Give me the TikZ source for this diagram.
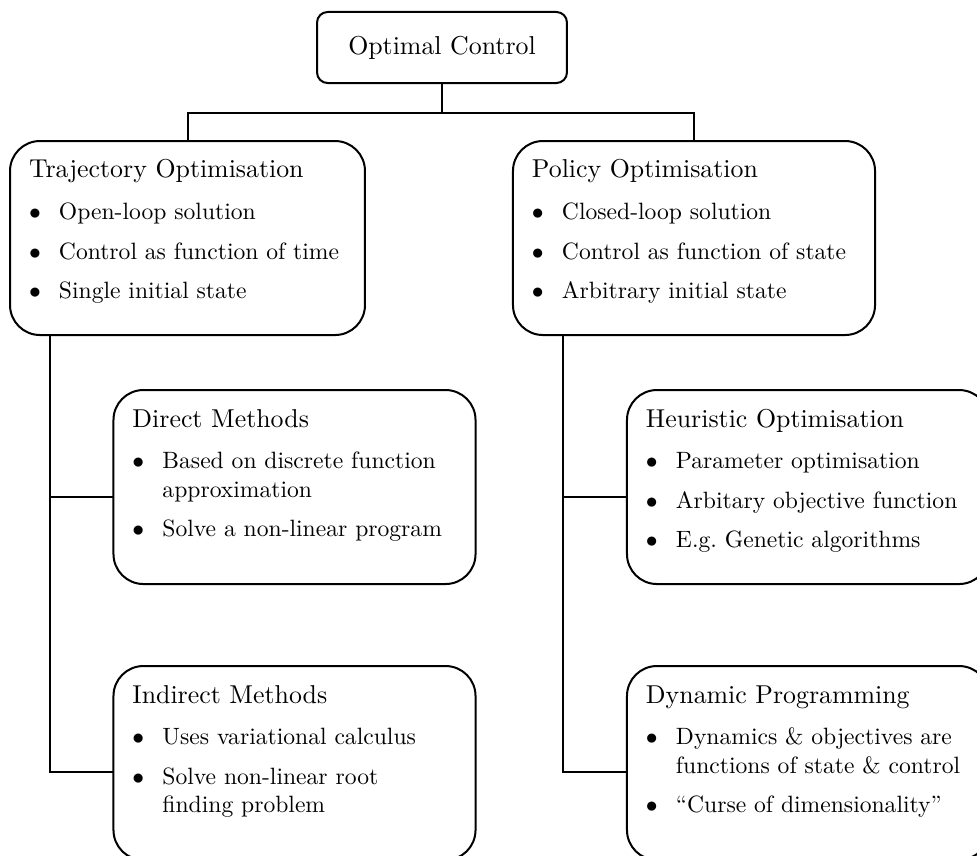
\documentclass[tikz,border=0pt]{standalone}
\usetikzlibrary{calc}
% lines inside the boxes: a slightly larger heading, then bullet items
\newcommand\bxtitle[1]{{\fontsize{10.95}{12}\selectfont\rule{0pt}{8pt}#1}}
\newcommand\bxitem{\makebox[12.7pt][l]{$\bullet$}}
\newcommand\bxcont{\hspace*{12.7pt}}
\begin{document}
\begin{tikzpicture}[x=0.4237pt,y=-0.4237pt,
  every node/.style={inner sep=0pt, outer sep=0pt},
  conn/.style={line width=0.85pt},
  topbox/.style={draw, line width=0.85pt, rounded corners=4.5pt,
    minimum width=105.9pt, minimum height=30.1pt,
    font=\fontsize{10.95}{13.6}\selectfont},
  bigbox/.style={draw, line width=0.85pt, rounded corners=12.7pt,
    minimum height=82.2pt},
  wbox/.style={bigbox, minimum width=153.4pt},
  nbox/.style={bigbox, minimum width=150.4pt},
  bxtext/.style={anchor=north west, align=left,
    font=\fontsize{10}{12}\selectfont},
]
\useasboundingbox (0,0) rectangle (977,855);
\clip (0,0) rectangle (977,855);

% boxes
\node[topbox] (oc) at (442,47.5) {Optimal Control};
\node[nbox] (traj) at (187.5,238) {};
\node[wbox] (pol) at (694,238) {};
\node[wbox] (direct) at (294.5,487) {};
\node[wbox] (indirect) at (294.5,763) {};
\node[wbox] (heur) at (808,487) {};
\node[wbox] (dyn) at (808,763) {};

% box contents
\node[bxtext] (trajtxt) at ($(traj.north west)+(19,18.1)$) {%
  \bxtitle{Trajectory Optimisation}\\[5.7pt]
  \bxitem Open-loop solution\\[4.7pt]
  \bxitem Control as function of time\\[4.7pt]
  \bxitem Single initial state};
\node[bxtext] (poltxt) at ($(pol.north west)+(19,18.1)$) {%
  \bxtitle{Policy Optimisation}\\[5.7pt]
  \bxitem Closed-loop solution\\[4.7pt]
  \bxitem Control as function of state\\[4.7pt]
  \bxitem Arbitrary initial state};
\node[bxtext] (directtxt) at ($(direct.north west)+(19,18.1)$) {%
  \bxtitle{Direct Methods}\\[5.7pt]
  \bxitem Based on discrete function\\
  \bxcont approximation\\[4.7pt]
  \bxitem Solve a non-linear program};
\node[bxtext] (indirecttxt) at ($(indirect.north west)+(19,18.1)$) {%
  \bxtitle{Indirect Methods}\\[5.7pt]
  \bxitem Uses variational calculus\\[4.7pt]
  \bxitem Solve non-linear root\\
  \bxcont finding problem};
\node[bxtext] (heurtxt) at ($(heur.north west)+(19,18.1)$) {%
  \bxtitle{Heuristic Optimisation}\\[5.7pt]
  \bxitem Parameter optimisation\\[4.7pt]
  \bxitem Arbitary objective function\\[4.7pt]
  \bxitem E.g.\ Genetic algorithms};
\node[bxtext] (dyntxt) at ($(dyn.north west)+(19,18.1)$) {%
  \bxtitle{Dynamic Programming}\\[5.7pt]
  \bxitem Dynamics \& objectives are\\
  \bxcont functions of state \& control\\[4.7pt]
  \bxitem “Curse of dimensionality”};

% tree connectors
\draw[conn] (oc.south) -- ++(0,30) -| (traj.north);
\draw[conn] (oc.south) ++(0,30) -| (pol.north);
\draw[conn] ($(traj.south west)+(40,0)$) |- ($(direct.west)+(0,10)$);
\draw[conn] ($(traj.south west)+(40,0)$) |- ($(indirect.west)+(0,9)$);
\draw[conn] ($(pol.south west)+(50,0)$) |- ($(heur.west)+(0,10)$);
\draw[conn] ($(pol.south west)+(50,0)$) |- ($(dyn.west)+(0,9)$);
\end{tikzpicture}
\end{document}
